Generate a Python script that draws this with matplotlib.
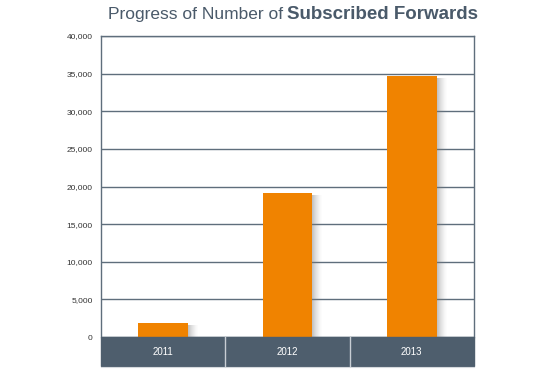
import matplotlib.pyplot as plt
from matplotlib.patches import Rectangle

years = ['2011', '2012', '2013']
forwards = [1850, 19200, 34700]
yticks = [0, 5000, 10000, 15000, 20000, 25000, 30000, 35000, 40000]

BAR = '#f08300'
SLATE = '#4e5e6d'
GRID = '#5f6e7c'

plt.rcParams['font.family'] = ['Liberation Sans', 'DejaVu Sans']

fig = plt.figure(figsize=(5.5, 3.83), dpi=100)
ax = fig.add_axes([0.1836, 0.120, 0.678, 0.786])

x = list(range(len(years)))
width = 0.4

# soft shadow on the right of each bar
for xi, v in zip(x, forwards):
    n = 10
    for k in range(n):
        ax.add_patch(Rectangle((xi + width / 2 + k * 0.008, 0), 0.008, v - 300,
                               color='#7a7a7a', alpha=0.45 * (1 - k / n) ** 1.5,
                               lw=0, zorder=2))

ax.bar(x, forwards, width=width, color=BAR, zorder=3)

ax.set_xlim(-0.5, 2.5)
ax.set_ylim(0, 40000)
ax.set_yticks(yticks)
ax.set_yticklabels([f'{t:,}' for t in yticks], fontsize=6, color='#333333')
ax.yaxis.grid(True, color=GRID, lw=1, zorder=1)
ax.set_axisbelow(True)
ax.tick_params(axis='y', length=0, pad=6)

for s in ['left', 'right', 'top']:
    ax.spines[s].set_color(GRID)
    ax.spines[s].set_linewidth(1)
ax.spines['bottom'].set_visible(False)

# category band under the axis
band_h = 29 / 301
ax.add_patch(Rectangle((0, -band_h), 1, band_h, transform=ax.transAxes,
                       color=SLATE, clip_on=False, zorder=4))
for b in [1 / 3, 2 / 3]:
    ax.plot([b, b], [-band_h, 0], transform=ax.transAxes, color='#c8ced4',
            lw=1, clip_on=False, zorder=5)
ax.plot([0, 1], [-band_h - 0.004, -band_h - 0.004], transform=ax.transAxes,
        color='#d5d9dd', lw=0.8, clip_on=False, zorder=5)
ax.set_xticks([])
for xi, yr in zip(x, years):
    ax.text(xi, -band_h / 2, yr, transform=ax.get_xaxis_transform(),
            ha='center', va='center', fontsize=7, color='white',
            clip_on=False, zorder=6)

fig.text(283 / 550, 0.962, 'Progress of Number of', ha='right', va='center',
         fontsize=12.5, color='#4a5a6a')
fig.text(287 / 550, 0.962, 'Subscribed Forwards', ha='left', va='center',
         fontsize=13.5, color='#4a5a6a', fontweight='bold')

fig.savefig('out.png', dpi=100)
